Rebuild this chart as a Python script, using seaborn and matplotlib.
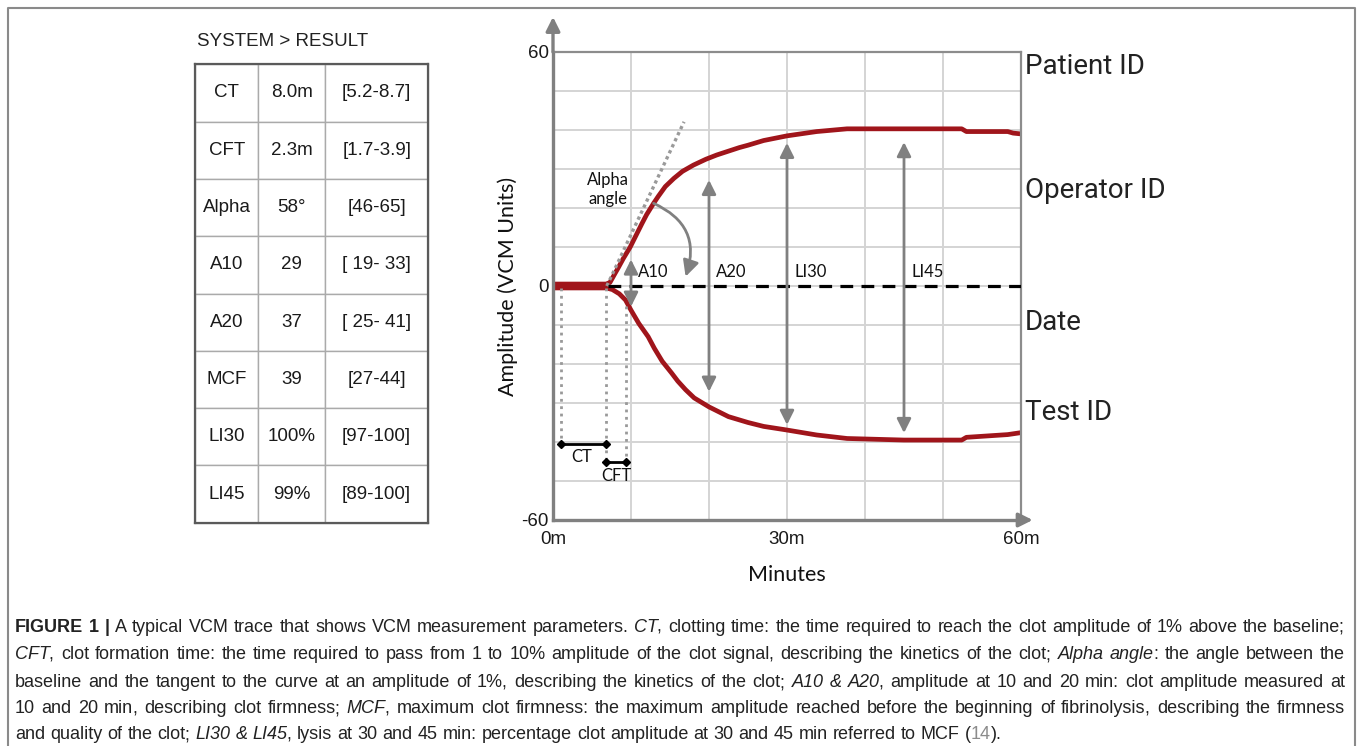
import pandas as pd
import seaborn as sns
import matplotlib.pyplot as plt
from matplotlib.lines import Line2D

# VCM trace, minutes vs amplitude (VCM units)
t_upper = [0, 6.8, 7.3, 8.0, 8.4, 9.0, 9.9, 10.5, 11.4, 12.0, 12.9, 13.5, 14.4, 15.5, 16.6, 18.0,
           19.6, 21.0, 23.9, 25.0, 27.0, 30.0, 33.8, 37.7, 40.0, 45.0, 52.4, 53.0, 58.3, 59.0, 60.0]
amp_upper = [0.5, 0.5, 0.9, 3.4, 4.8, 7.0, 10.0, 12.4, 16.0, 18.3, 21.2, 23.0, 25.5, 27.6, 29.4, 31.0,
             32.5, 33.6, 35.5, 36.1, 37.3, 38.5, 39.6, 40.3, 40.3, 40.3, 40.3, 39.6, 39.6, 39.2, 39.0]
t_lower = [0, 6.8, 7.6, 8.5, 9.3, 10.0, 11.0, 12.2, 13.0, 14.0, 15.2, 16.0, 17.0, 18.1, 20.0,
           22.5, 25.0, 27.0, 29.9, 33.8, 37.7, 45.0, 52.4, 53.0, 58.3, 60.0]
amp_lower = [-0.5, -0.5, -0.9, -2.0, -3.6, -6.2, -9.6, -13.0, -16.0, -19.3, -22.3, -24.4, -26.6, -28.7, -31.0,
             -33.5, -35.0, -36.0, -36.9, -38.2, -39.1, -39.5, -39.5, -38.8, -38.1, -37.6]

# CT / CFT markers
ct_span = [1.0, 6.8]
cft_span = [6.8, 9.4]
ct_level = -40.6
cft_level = -45
tangent_t = [6.9, 16.8]
tangent_amp = [0, 42.1]
alpha_from = (12.9, 21.2)
alpha_to = (17.0, 2.4)

# amplitude arrows
arrow_names = ["A10", "A20", "LI30", "LI45"]
arrow_t = [10, 20, 30, 45]
arrow_top = [6.8, 27.2, 36.7, 36.9]
arrow_bottom = [-5.3, -27.1, -35.6, -37.7]

# result table
table_params = ["CT", "CFT", "Alpha", "A10", "A20", "MCF", "LI30", "LI45"]
table_results = ["8.0m", "2.3m", "58°", "29", "37", "39", "100%", "99%"]
table_ranges = ["[5.2-8.7]", "[1.7-3.9]", "[46-65]", "[ 19- 33]", "[ 25- 41]", "[27-44]", "[97-100]", "[89-100]"]

side_labels = ["Patient ID", "Operator ID", "Date", "Test ID"]
side_label_y = [67, 190, 322, 412]

x_ticks = list(range(0, 61, 10))
x_ticklabels = ["0m", "", "", "30m", "", "", "60m"]
y_ticks = list(range(-60, 61, 10))
y_ticklabels = ["-60", "", "", "", "", "", "0", "", "", "", "", "", "60"]

caption_lines = [
    "**FIGURE 1 |** A typical VCM trace that shows VCM measurement parameters. *CT*, clotting time: the time required to reach the clot amplitude of 1% above the baseline;",
    "*CFT*, clot formation time: the time required to pass from 1 to 10% amplitude of the clot signal, describing the kinetics of the clot; *Alpha angle*: the angle between the",
    "baseline and the tangent to the curve at an amplitude of 1%, describing the kinetics of the clot; *A10 & A20*, amplitude at 10 and 20 min: clot amplitude measured at",
    "10 and 20 min, describing clot firmness; *MCF*, maximum clot firmness: the maximum amplitude reached before the beginning of fibrinolysis, describing the firmness",
    "and quality of the clot; *LI30 & LI45*, lysis at 30 and 45 min: percentage clot amplitude at 30 and 45 min referred to MCF ({14}).",
]

W, H = 1358, 746
RED = "#a0151b"
GREY = "#808080"
PUNCT = ",;"


def fx(px):
    return px / W


def fy(py):
    return 1 - py / H


def parse_line(line):
    words, pieces, buf, style = [], [], "", "n"

    def flush(buf, style):
        # trailing comma / semicolon drawn on its own so the word keeps its baseline
        body = buf.rstrip(PUNCT)
        if body:
            pieces.append((body, style))
        if len(body) < len(buf):
            pieces.append((buf[len(body):], style))

    i = 0
    while i < len(line):
        if line.startswith("**", i):
            flush(buf, style)
            buf = ""
            style = "n" if style == "b" else "b"
            i += 2
            continue
        c = line[i]
        if c in "*{}":
            flush(buf, style)
            buf = ""
            if c == "*":
                style = "n" if style == "i" else "i"
            else:
                style = "g" if c == "{" else "n"
        elif c == " ":
            flush(buf, style)
            buf = ""
            if pieces:
                words.append(list(pieces))
                pieces.clear()
        else:
            buf += c
        i += 1
    flush(buf, style)
    if pieces:
        words.append(list(pieces))
    return words


def main():
    sns.set_style("white")
    plt.rcParams["font.family"] = ["DejaVu Sans"]
    fig = plt.figure(figsize=(W / 100, H / 100), dpi=100)

    # outer frame (no bottom edge)
    fig.add_artist(Line2D([fx(8), fx(8), fx(1355), fx(1355)], [0, fy(8), fy(8), 0],
                          transform=fig.transFigure, color="#8a8a8a", lw=1.5))

    # ---- trace panel
    ax = fig.add_axes([fx(553), fy(520), 468 / W, 468 / H])
    sns.lineplot(x=t_upper, y=amp_upper, color=RED, lw=3.4, ax=ax)
    sns.lineplot(x=t_lower, y=amp_lower, color=RED, lw=3.4, ax=ax)
    ax.set_xlim(0, 60)
    ax.set_ylim(-60, 60)
    ax.set_xticks(x_ticks)
    ax.set_xticklabels(x_ticklabels, fontsize=13.5, family="Liberation Sans")
    ax.set_yticks(y_ticks)
    ax.set_yticklabels(y_ticklabels, fontsize=13.5, family="Liberation Sans")
    ax.tick_params(length=0, colors="#1a1a1a")
    ax.tick_params(axis="x", pad=8)
    ax.tick_params(axis="y", pad=3)
    ax.grid(True, color="#d4d4d4", lw=1.4)
    for side in ["left", "bottom"]:
        ax.spines[side].set_color(GREY)
        ax.spines[side].set_linewidth(2.4)
    for side in ["top", "right"]:
        ax.spines[side].set_color("#8c8c8c")
        ax.spines[side].set_linewidth(1.6)
    ax.annotate("", xy=(0, 1.075), xytext=(0, 1), xycoords="axes fraction",
                arrowprops=dict(arrowstyle="-|>,head_length=0.6,head_width=0.3", color=GREY, lw=2.4,
                                shrinkA=0, shrinkB=0, mutation_scale=14))
    ax.annotate("", xy=(1.025, 0), xytext=(1, 0), xycoords="axes fraction",
                arrowprops=dict(arrowstyle="-|>,head_length=0.6,head_width=0.3", color=GREY, lw=2.4,
                                shrinkA=0, shrinkB=0, mutation_scale=14))

    ax.set_xlabel("Minutes", fontsize=15.5, family="Lato", color="#111111")
    ax.set_ylabel("Amplitude (VCM Units)", fontsize=15.5, family="Lato", color="#111111")
    ax.xaxis.set_label_coords(0.5, -(565 - 520) / 468)
    ax.yaxis.set_label_coords(-(553 - 518) / 468, 0.5)

    # baseline
    ax.plot([7, 60], [0, 0], color="black", lw=2.3, ls=(0, (4, 2.6)), zorder=3)
    # tangent for alpha angle
    ax.plot(tangent_t, tangent_amp, color="#9a9a9a", lw=2.4, ls=(0, (1, 1)), zorder=2)
    ax.annotate("", xy=alpha_to, xytext=alpha_from,
                arrowprops=dict(arrowstyle="-|>,head_length=0.6,head_width=0.3", color=GREY, lw=2,
                                connectionstyle="arc3,rad=-0.45", shrinkA=0, shrinkB=0, mutation_scale=16))
    ax.text(7.1, 24.7, "Alpha\nangle", ha="center", va="center", fontsize=12, family="Lato",
            color="#111111", linespacing=1.25)

    # CT / CFT
    ax.plot([ct_span[0]] * 2, [-0.5, ct_level], color="#999999", lw=2, ls=":")
    ax.plot([ct_span[1]] * 2, [-0.5, cft_level], color="#999999", lw=2, ls=":")
    ax.plot([cft_span[1]] * 2, [-5.2, cft_level], color="#999999", lw=2, ls=":")
    ax.plot(ct_span, [ct_level] * 2, color="black", lw=2, marker="D", ms=4.5)
    ax.plot(cft_span, [cft_level] * 2, color="black", lw=2, marker="D", ms=4.5)
    ax.text(sum(ct_span) / 2 - 0.2, ct_level - 3.2, "CT", ha="center", va="center", fontsize=12,
            family="Lato", color="#111111")
    ax.text(sum(cft_span) / 2, cft_level - 3.6, "CFT", ha="center", va="center", fontsize=12,
            family="Lato", color="#111111")

    for name, t, top, bot in zip(arrow_names, arrow_t, arrow_top, arrow_bottom):
        ax.annotate("", xy=(t, top), xytext=(t, bot),
                    arrowprops=dict(arrowstyle="<|-|>,head_length=0.6,head_width=0.3", color=GREY, lw=2,
                                    shrinkA=0, shrinkB=0, mutation_scale=14))
        ax.text(t + 0.9, 3.5, name, ha="left", va="center", fontsize=12, family="Lato", color="#111111")

    for lab, py in zip(side_labels, side_label_y):
        fig.text(fx(1025), fy(py), lab, ha="left", va="center", fontsize=20, family="Roboto", color="#222222")

    # ---- result table
    fig.text(fx(197), fy(42), "SYSTEM > RESULT", ha="left", va="center", fontsize=13.5,
             family="Liberation Sans", color="#222222")
    tax = fig.add_axes([fx(195), fy(522.7), (428.3 - 195) / W, (522.7 - 64.3) / H])
    tax.set_xticks([])
    tax.set_yticks([])
    rows = [list(r) for r in zip(table_params, table_results, table_ranges)]
    col_w = [63.3, 66.7, 103.3]
    tbl = tax.table(cellText=rows, cellLoc="center", colWidths=[w / sum(col_w) for w in col_w],
                    bbox=[0, 0, 1, 1])
    tbl.auto_set_font_size(False)
    tbl.set_fontsize(13.5)
    for cell in tbl.get_celld().values():
        cell.set_edgecolor("#aaaaaa")
        cell.set_linewidth(1.0)
        cell.get_text().set_fontfamily("Liberation Sans")
        cell.get_text().set_color("#1a1a1a")
    for sp in tax.spines.values():
        sp.set_color("#5a5a5a")
        sp.set_linewidth(1.6)
        sp.set_zorder(20)

    # ---- caption, justified
    cap_font = "Liberation Sans"
    cap_styles = {"n": {}, "b": {"weight": "bold"}, "i": {"style": "italic"}, "g": {"color": "#8c8c8c"}}
    renderer = fig.canvas.get_renderer()

    def piece_kw(st, size):
        kw = {"fontsize": size, "family": cap_font, "color": "#222222"}
        kw.update(cap_styles[st])
        return kw

    def ink_width(s, st, size):
        t = fig.text(0, 0, s, **piece_kw(st, size))
        w = t.get_window_extent(renderer).width
        t.remove()
        return w

    def advance(s, st, size):
        # pen advance of s, measured between two bars
        return ink_width("|" + s + "|", st, size) - ink_width("||", st, size)

    parsed = [parse_line(l) for l in caption_lines]
    x_left, x_right = 15, 1345
    target = x_right - x_left
    base = 10.0
    space = advance(" ", "n", base)
    nat = []
    for words in parsed[:4]:
        ww = sum(advance(s, st, base) for w in words for s, st in w)
        nat.append(ww + space * (len(words) - 1))
    size = base * min(target / n for n in nat) * 0.995
    space = advance(" ", "n", size)
    kern = 1.3  # pull split-off punctuation back onto its word
    baselines = [632, 659, 687, 713, 739]
    for k, words in enumerate(parsed):
        advs = [[advance(s, st, size) for s, st in w] for w in words]
        total = sum(sum(a) for a in advs)
        if k < len(parsed) - 1 and len(words) > 1:
            gap = (target - total) / (len(words) - 1)
        else:
            gap = space
        x = x_left
        for w, a in zip(words, advs):
            for (s, st), pa in zip(w, a):
                dx = -kern if s.strip(PUNCT) == "" else 0
                fig.text(fx(x + dx), fy(baselines[k]), s, ha="left", va="baseline", **piece_kw(st, size))
                x += pa
            x += gap

    fig.savefig("out.png", dpi=100)


if __name__ == "__main__":
    main()
